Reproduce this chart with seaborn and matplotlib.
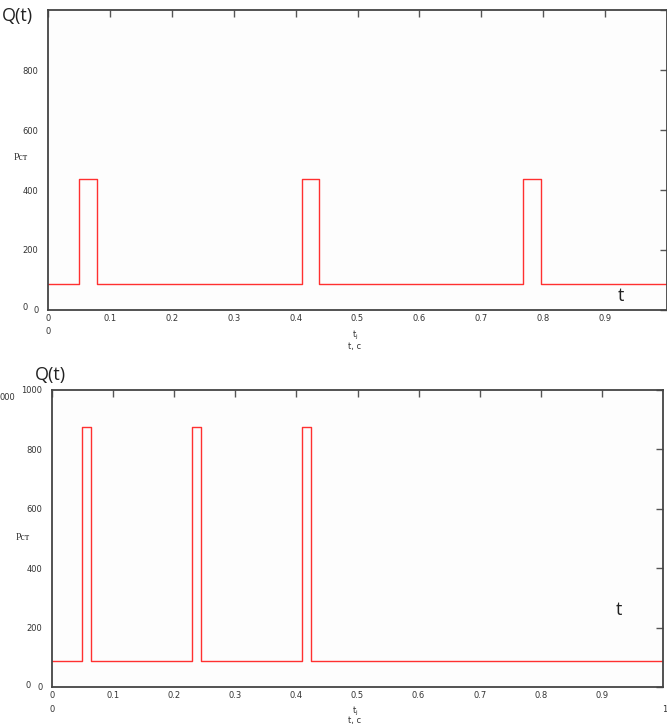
import matplotlib
matplotlib.use('Agg')
import matplotlib.pyplot as plt
import seaborn as sns

# valori
top_base = 87
top_peak = 437
top_start = [0.050, 0.410, 0.768]
top_end = [0.079, 0.437, 0.796]

bot_base = 87
bot_peak = 877
bot_start = [0.049, 0.229, 0.409]
bot_end = [0.064, 0.244, 0.424]

x_ticks = [0, 0.1, 0.2, 0.3, 0.4, 0.5, 0.6, 0.7, 0.8, 0.9]
x_labels = ["0", "0.1", "0.2", "0.3", "0.4", "0.5", "0.6", "0.7", "0.8", "0.9"]
y_ticks = [0, 200, 400, 600, 800, 1000]

sns.set_theme(style="white")
plt.rcParams['font.family'] = ['DejaVu Sans']

W, H = 667, 727
fig = plt.figure(figsize=(W / 100, H / 100), dpi=100)
fig.patch.set_facecolor('white')


def steps(base, peak, starts, ends):
    t, q = [0.0], [base]
    for s, e in zip(starts, ends):
        t += [s, e]
        q += [peak, base]
    t.append(1.0)
    q.append(base)
    return t, q


def px(x, y):
    return x / W, 1 - y / H


def panel(rect, base, peak, starts, ends, ylabels):
    ax = fig.add_axes(rect)
    ax.set_facecolor('#fdfdfd')
    t, q = steps(base, peak, starts, ends)
    sns.lineplot(x=t, y=q, ax=ax, drawstyle='steps-post', color='#ff3030',
                 linewidth=1.0, estimator=None, sort=False)
    ax.set_xlim(0, 1)
    ax.set_ylim(0, 1000)
    ax.set_xticks(x_ticks)
    ax.set_xticklabels(x_labels)
    ax.set_yticks(y_ticks)
    ax.set_yticklabels(ylabels)
    ax.tick_params(direction='in', length=5, width=1, colors='#555555',
                   labelcolor='#333333', labelsize=6, top=True, right=True)
    ax.tick_params(axis='x', pad=3)
    ax.tick_params(axis='y', pad=7)
    for sp in ax.spines.values():
        sp.set_color('#444444')
        sp.set_linewidth(1.3)
    ax.set_xlabel('')
    ax.set_ylabel('')
    return ax


panel([48 / W, 1 - 310 / H, 619 / W, 300 / H], top_base, top_peak,
      top_start, top_end, ["0", "200", "400", "600", "800", ""])
panel([52 / W, 1 - 687 / H, 611 / W, 297 / H], bot_base, bot_peak,
      bot_start, bot_end, ["0", "200", "400", "600", "800", "1000"])

big = dict(fontsize=13, family=['Open Sans', 'DejaVu Sans'], color='#222222',
           ha='left', va='center')
small = dict(fontsize=6, color='#333333', ha='center', va='center')
serif = dict(fontsize=7, family=['Liberation Serif', 'DejaVu Serif'],
             color='#333333', ha='left', va='center')

# pannello superiore
fig.text(*px(2, 16), "Q(t)", **big)
fig.text(*px(618, 296), "t", **big)
fig.text(*px(14, 158), "Pст", **serif)
fig.text(*px(25, 307), "0", **small)
fig.text(*px(48, 332), "0", **small)
fig.text(*px(355, 335), r"$\mathregular{t_j}$", **small)
fig.text(*px(355, 346), "t, c", **small)

# pannello inferiore
fig.text(*px(35, 375), "Q(t)", **big)
fig.text(*px(616, 610), "t", **big)
fig.text(*px(16, 538), "Pст", **serif)
fig.text(*px(28, 685), "0", **small)
fig.text(*px(52, 710), "0", **small)
fig.text(*px(665, 710), "1", **small)
fig.text(*px(0, 397), "000", **dict(small, ha='left'))
fig.text(*px(355, 711), r"$\mathregular{t_j}$", **small)
fig.text(*px(355, 721), "t, c", **small)

fig.savefig("out.png", dpi=100)
plt.close(fig)
